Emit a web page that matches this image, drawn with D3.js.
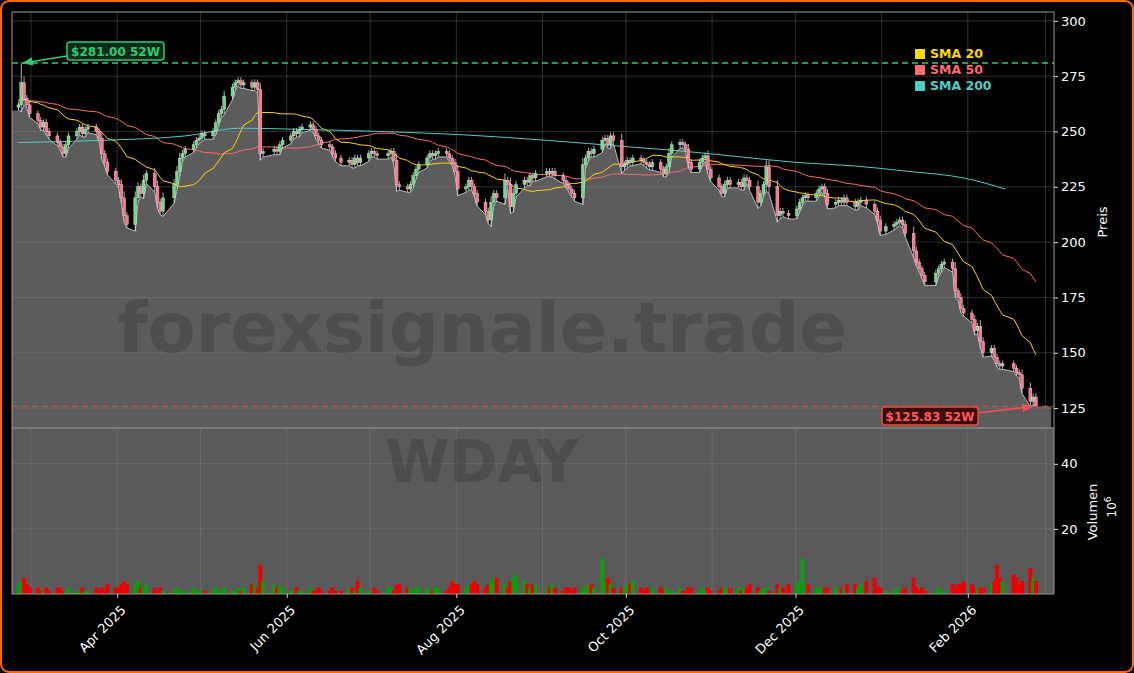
<!DOCTYPE html>
<html><head><meta charset="utf-8">
<script src="https://cdn.jsdelivr.net/npm/d3@7"></script>
<style>body{margin:0;background:#000}svg{display:block}</style>
</head><body>
<script>
const startDate = "2025-02-24";
const holidays = ["2025-04-18","2025-05-26","2025-06-19","2025-07-04","2025-09-01","2025-11-27","2025-12-25","2026-01-01","2026-01-19","2026-02-16"];
const closes = [262,272,265,262,258,255,252,254,250,248,245,243,240,244,248,250,252,249,251,252,
250,247,240,236,232,228,226,220,212,208,220,225,222,228,231,225,218,214,220,226,
232,238,240,242,244,246,247,249,248,250,254,258,260,266,270,272,273,271,272,270,
272,269,240,241,242,241,244,246,248,250,249,251,252,253,251,248,246,244,243,240,
238,236,237,235,238,236,238,240,241,240,239,240,241,237,226,225,224,226,230,233,
235,238,240,239,240,241,240,238,236,232,224,225,228,225,222,218,214,210,218,222,
220,228,226,216,222,226,228,227,230,229,231,232,231,232,230,228,226,224,222,220,
235,238,241,240,242,246,247,244,248,246,234,235,237,236,238,237,236,235,234,236,
233,231,234,240,244,245,244,242,236,233,236,238,239,233,229,225,222,226,228,226,
227,225,229,228,225,218,222,226,234,225,212,214,213,212,215,218,220,221,220,222,
224,225,222,217,218,219,218,220,218,216,218,219,217,214,210,205,207,208,209,210,
208,204,196,191,188,185,182,186,188,190,191,188,178,175,170,168,165,160,162,155,
150,152,148,145,144,145,143,141,140,134,128,130,126];
const priorCloses = [262,265,268,270,266,263,260,262,265,268,270,272,269,266,264,262,260,258,261,264,
266,268,267,265,262,260,258,256,259,262,264,266,268,270,268,265,263,261,260,262,
264,266,265,263,262,264,266,263,261];
const volumes = [3,4,5,3,2,2,1,1,2,1,2,2,1,1,2,1,1,2,1,1,2,1,2,1,3,2,2,3,4,3,3,4,2,2,3,2,1,2,1,1,
2,1,1,1,2,1,1,1,1,1,2,1,1,2,1,1,2,1,2,3,3,2,9,4,3,2,2,2,1,1,2,1,1,2,1,1,2,1,1,2,
1,1,2,2,1,4,2,1,1,2,1,2,2,1,3,3,2,2,1,2,2,2,1,1,2,2,1,2,4,3,3,2,3,3,4,3,2,3,4,5,
5,3,2,4,5,6,4,3,2,3,3,2,2,3,2,1,2,2,1,2,2,2,3,3,2,11,4,5,3,2,2,2,3,3,4,2,1,2,1,2,
2,1,2,1,1,2,1,1,2,2,1,2,1,2,1,1,2,2,1,2,2,1,2,2,3,2,1,2,2,1,3,2,2,3,3,4,11,3,3,2,
2,2,2,2,2,1,2,2,3,3,2,3,4,5,2,2,1,1,2,1,1,2,5,2,1,2,1,1,2,1,1,3,2,3,3,4,3,2,2,2,
2,3,4,9,5,4,6,5,3,4,8,5,4,3,4,4,3,3,5,10,3,4,3];
const sma200Pts = [[0,245],[30,246],[60,248],[80,251.5],[100,251],[130,250],[160,248.5],[190,246],[220,243],[240,241],[260,238.5],[280,236],[300,234.5],[320,232],[340,229],[355,224]];
const yTicks = [125,150,175,200,225,250,275,300];
const vTicks = [20,40];
const high52 = 281.00, low52 = 125.83;

const dates = [];
{ let d = new Date(startDate+"T12:00:00");
  while (dates.length < closes.length) { const wd=d.getDay(); const k=d3.timeFormat("%Y-%m-%d")(d);
    if (wd!==0&&wd!==6&&!holidays.includes(k)) dates.push(new Date(d)); d = new Date(d.getTime()+86400000); } }
const all = priorCloses.concat(closes);
const P = priorCloses.length;
const data = closes.map((c,i)=>{
  const o = i===0 ? priorCloses[P-1] : closes[i-1];
  const w = Math.min(3, Math.max(1.5, Math.abs(c-o)*0.4));
  return {date:dates[i], o, c, h: Math.max(o,c)+w, l: Math.min(o,c)-w, v: volumes[i]||2};
});
data[1].h = high52; data[252].l = low52;
function sma(n){ return closes.map((c,i)=>d3.mean(all.slice(P+i-n+1,P+i+1))); }
const s20 = sma(20), s50 = sma(50);

const W=1134,H=673;
const svg=d3.select("body").append("svg").attr("width",W).attr("height",H);
svg.append("rect").attr("x",1).attr("y",1).attr("width",W-2).attr("height",H-2).attr("rx",8).attr("fill","#000").attr("stroke","#ff6a00").attr("stroke-width",2);
const L=12,R=1054,PT=12,PB=428,VT=428,VB=594;
const x=d3.scaleTime().domain([new Date("2025-02-22T04:00:00"),new Date("2026-03-04T00:00:00")]).range([L,R]);
const y=d3.scaleLinear().domain([116,304]).range([PB,PT]);
const yv=d3.scaleLinear().domain([0,51]).range([VB,VT]);
const defs=svg.append("defs");
defs.append("clipPath").attr("id","cp").append("rect").attr("x",L).attr("y",PT).attr("width",R-L).attr("height",PB-PT);

svg.append("rect").attr("x",L).attr("y",VT).attr("width",R-L).attr("height",VB-VT).attr("fill","#5a5a5a");
const months=d3.timeMonth.range(new Date("2025-03-01"),new Date("2026-03-02"));
months.forEach(m=>{svg.append("line").attr("x1",x(m)).attr("x2",x(m)).attr("y1",PT).attr("y2",VB).attr("stroke","#888").attr("stroke-opacity",0.35);});
const pg=svg.append("g").attr("clip-path","url(#cp)");
const area=d3.area().x(d=>x(d.date)).y0(PB).y1(d=>y(d.l));
const ad=[{date:x.invert(L),l:data[0].l}].concat(data,[{date:new Date("2026-03-03"),l:low52}]);
pg.append("path").datum(ad).attr("d",area).attr("fill","#5c5c5c");
yTicks.forEach(t=>pg.append("line").attr("x1",L).attr("x2",R).attr("y1",y(t)).attr("y2",y(t)).attr("stroke","#888").attr("stroke-opacity",0.35));
vTicks.forEach(t=>svg.append("line").attr("x1",L).attr("x2",R).attr("y1",yv(t)).attr("y2",yv(t)).attr("stroke","#888").attr("stroke-opacity",0.35));
pg.append("path").datum(data).attr("d",d3.line().x(d=>x(d.date)).y(d=>y(d.l))).attr("fill","none").attr("stroke","#bbb").attr("stroke-width",1);
svg.append("text").attr("x",482).attr("y",352).attr("text-anchor","middle").attr("font-family","DejaVu Sans").attr("font-weight","bold").attr("font-size",70).attr("fill","#444").attr("fill-opacity",0.55).text("forexsignale.trade");
svg.append("text").attr("x",482).attr("y",482).attr("text-anchor","middle").attr("font-family","DejaVu Sans").attr("font-weight","bold").attr("font-size",58).attr("fill","#444").attr("fill-opacity",0.55).text("WDAY");
const ln=d3.line().x(d=>x(d[0])).y(d=>y(d[1]));
pg.append("path").datum(data.map((d,i)=>[d.date,s50[i]])).attr("d",ln).attr("fill","none").attr("stroke","#ff6b6b").attr("stroke-width",1);
pg.append("path").datum(data.map((d,i)=>[d.date,s20[i]])).attr("d",ln).attr("fill","none").attr("stroke","#ffd700").attr("stroke-width",1);
pg.append("path").datum(sma200Pts.map(p=>[d3.timeDay.offset(dates[0],Math.round(p[0])),p[1]])).attr("d",ln.curve(d3.curveMonotoneX)).attr("fill","none").attr("stroke","#4ecdc4").attr("stroke-width",1);
const cw=3;
data.forEach(d=>{
  const up=d.c>=d.o, col=up?"#6fd88a":"#ff7390";
  pg.append("line").attr("x1",x(d.date)).attr("x2",x(d.date)).attr("y1",y(d.h)).attr("y2",y(d.l)).attr("stroke","#ddd").attr("stroke-width",0.8);
  pg.append("rect").attr("x",x(d.date)-cw/2).attr("width",cw).attr("y",y(Math.max(d.o,d.c))).attr("height",Math.max(1,Math.abs(y(d.o)-y(d.c)))).attr("fill",col).attr("stroke","#fff").attr("stroke-width",0.3);
});
data.forEach(d=>{
  svg.append("rect").attr("x",x(d.date)-2).attr("width",4).attr("y",yv(d.v)).attr("height",VB-yv(d.v)).attr("fill",d.c>=d.o?"#119911":"#ee0000");
});
svg.append("line").attr("x1",L).attr("x2",R).attr("y1",y(high52)).attr("y2",y(high52)).attr("stroke","#2ecc71").attr("stroke-width",1.5).attr("stroke-dasharray","6,4");
svg.append("line").attr("x1",L).attr("x2",R).attr("y1",y(low52)).attr("y2",y(low52)).attr("stroke","#e74c3c").attr("stroke-width",1.2).attr("stroke-dasharray","6,4");
defs.append("marker").attr("id","ag").attr("viewBox","0 0 10 10").attr("refX",9).attr("refY",5).attr("markerWidth",7).attr("markerHeight",7).attr("orient","auto").append("path").attr("d","M0,1L10,5L0,9z").attr("fill","#2ecc71");
defs.append("marker").attr("id","ar").attr("viewBox","0 0 10 10").attr("refX",9).attr("refY",5).attr("markerWidth",7).attr("markerHeight",7).attr("orient","auto").append("path").attr("d","M0,1L10,5L0,9z").attr("fill","#ff4d4d");
svg.append("line").attr("x1",67).attr("y1",56).attr("x2",x(dates[1])+2).attr("y2",y(high52)).attr("stroke","#2ecc71").attr("stroke-width",1.5).attr("marker-end","url(#ag)");
svg.append("rect").attr("x",67).attr("y",42).attr("width",97).attr("height",18).attr("rx",3).attr("fill","#0d2a18").attr("stroke","#2ecc71").attr("stroke-width",1.5);
svg.append("text").attr("x",115.5).attr("y",56).attr("text-anchor","middle").attr("font-family","DejaVu Sans").attr("font-weight","bold").attr("font-size",12).attr("fill","#2ecc71").text("$"+high52.toFixed(2)+" 52W");
svg.append("line").attr("x1",977).attr("y1",413).attr("x2",x(dates[252])-4).attr("y2",y(low52)+0.5).attr("stroke","#ff4d4d").attr("stroke-width",1.5).attr("marker-end","url(#ar)");
svg.append("rect").attr("x",882).attr("y",407).attr("width",96).attr("height",18).attr("rx",3).attr("fill","#3a0d0d").attr("stroke","#e74c3c").attr("stroke-width",1.5);
svg.append("text").attr("x",930).attr("y",421).attr("text-anchor","middle").attr("font-family","DejaVu Sans").attr("font-weight","bold").attr("font-size",12).attr("fill","#ff5a5a").text("$"+low52.toFixed(2)+" 52W");
svg.append("rect").attr("x",L).attr("y",PT).attr("width",R-L).attr("height",VB-PT).attr("fill","none").attr("stroke","#999").attr("stroke-width",1);
svg.append("line").attr("x1",L).attr("x2",R).attr("y1",PB).attr("y2",PB).attr("stroke","#999");
const ya=svg.append("g").attr("transform",`translate(${R},0)`).call(d3.axisRight(y).tickValues(yTicks).tickSize(4));
const va=svg.append("g").attr("transform",`translate(${R},0)`).call(d3.axisRight(yv).tickValues(vTicks).tickSize(4));
const xa=svg.append("g").attr("transform",`translate(0,${VB})`).call(d3.axisBottom(x).tickValues(months.filter((m,i)=>i%2===1)).tickFormat(d3.timeFormat("%b %Y")).tickSize(4));
[ya,va,xa].forEach(a=>{a.select(".domain").remove();a.selectAll("line").attr("stroke","#ddd");a.selectAll("text").attr("fill","#fff").attr("font-family","DejaVu Sans").attr("font-size",13);});
xa.selectAll("text").attr("text-anchor","end").attr("dx","0").attr("dy","0").attr("transform","translate(4,12) rotate(-45)");
svg.append("text").attr("transform","translate(1107,222) rotate(-90)").attr("text-anchor","middle").attr("font-family","DejaVu Sans").attr("font-size",13).attr("fill","#fff").text("Preis");
svg.append("text").attr("transform","translate(1097,512) rotate(-90)").attr("text-anchor","middle").attr("font-family","DejaVu Sans").attr("font-size",13).attr("fill","#fff").text("Volumen");
const t6=svg.append("text").attr("transform","translate(1116,507) rotate(-90)").attr("text-anchor","middle").attr("font-family","DejaVu Sans").attr("font-size",12).attr("fill","#fff");
t6.append("tspan").text("10");t6.append("tspan").attr("font-size",9).attr("dy",-5).text("6");
const leg=[["SMA 20","#ffd700"],["SMA 50","#ff6b6b"],["SMA 200","#4ecdc4"]];
leg.forEach((l,i)=>{svg.append("rect").attr("x",915).attr("y",49+i*16).attr("width",10).attr("height",10).attr("fill",l[1]);
svg.append("text").attr("x",930).attr("y",58+i*16).attr("font-family","DejaVu Sans").attr("font-weight","bold").attr("font-size",12.5).attr("fill",l[1]).text(l[0]);});
</script></body></html>
